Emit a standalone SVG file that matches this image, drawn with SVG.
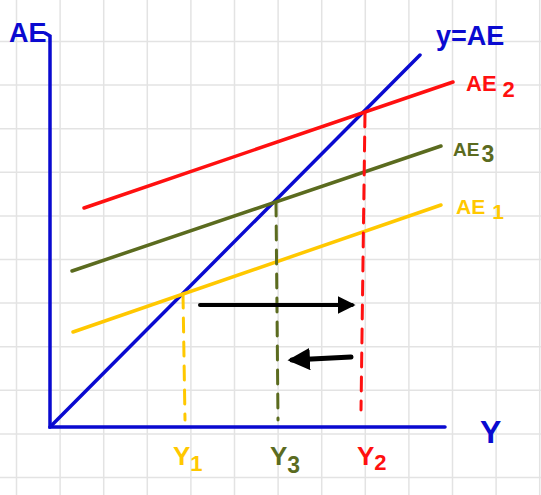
<svg xmlns="http://www.w3.org/2000/svg" width="541" height="495" viewBox="0 0 541 495">
<style>
.grid line{stroke:#e3e3e3;stroke-width:1.5}
.ln{fill:none;stroke-width:3.5;stroke-linecap:round}
.dash{fill:none;stroke-width:3;stroke-dasharray:14 10;stroke-linecap:round}
.t{font-family:"Liberation Sans",Arial,sans-serif;font-weight:bold}
.blue{stroke:#0a0ad0}.red{stroke:#ff1010}.olive{stroke:#5b6b1f}.yel{stroke:#ffc800}
</style>
<defs>
<marker id="ah" viewBox="0 0 10 10" refX="8" refY="5" markerWidth="4.5" markerHeight="4.5" orient="auto"><path d="M0,0 L10,5 L0,10 Z" fill="#000"/></marker>
</defs>
<rect width="541" height="495" fill="#fff"/>
<g class="grid">
<line x1="16.5" y1="0" x2="16.5" y2="495"/><line x1="60.1" y1="0" x2="60.1" y2="495"/><line x1="103.7" y1="0" x2="103.7" y2="495"/><line x1="147.3" y1="0" x2="147.3" y2="495"/><line x1="190.9" y1="0" x2="190.9" y2="495"/><line x1="234.5" y1="0" x2="234.5" y2="495"/><line x1="278.1" y1="0" x2="278.1" y2="495"/><line x1="321.7" y1="0" x2="321.7" y2="495"/><line x1="365.3" y1="0" x2="365.3" y2="495"/><line x1="408.9" y1="0" x2="408.9" y2="495"/><line x1="452.5" y1="0" x2="452.5" y2="495"/><line x1="496.1" y1="0" x2="496.1" y2="495"/><line x1="539.7" y1="0" x2="539.7" y2="495"/>
<line x1="0" y1="41.5" x2="541" y2="41.5"/><line x1="0" y1="85.1" x2="541" y2="85.1"/><line x1="0" y1="128.7" x2="541" y2="128.7"/><line x1="0" y1="172.3" x2="541" y2="172.3"/><line x1="0" y1="215.9" x2="541" y2="215.9"/><line x1="0" y1="259.5" x2="541" y2="259.5"/><line x1="0" y1="303.1" x2="541" y2="303.1"/><line x1="0" y1="346.7" x2="541" y2="346.7"/><line x1="0" y1="390.3" x2="541" y2="390.3"/><line x1="0" y1="433.9" x2="541" y2="433.9"/><line x1="0" y1="477.5" x2="541" y2="477.5"/>
</g>
<g id="axes">
<path class="ln blue" d="M45,33 L50,36 L50,427 L445,427"/>
<text class="t" x="9" y="42" font-size="27" fill="#0a0ad0">AE</text>
<text class="t" x="480" y="443" font-size="32" fill="#0a0ad0">Y</text>
</g>
<g id="line-45">
<line class="ln blue" x1="50" y1="427" x2="420" y2="55"/>
<text class="t" x="436" y="45" font-size="27" fill="#0a0ad0">y=AE</text>
</g>
<g id="ae2">
<line class="ln red" x1="84" y1="208" x2="453" y2="82"/>
<text class="t" x="466" y="91" font-size="22" fill="#ff1010">AE<tspan dx="6" dy="6">2</tspan></text>
</g>
<g id="ae3">
<line class="ln olive" x1="72" y1="271" x2="441" y2="146"/>
<text class="t" x="453" y="156" font-size="19" fill="#5b6b1f">AE<tspan dx="2" dy="6" font-size="23">3</tspan></text>
</g>
<g id="ae1">
<line class="ln yel" x1="73" y1="332" x2="441" y2="205"/>
<text class="t" x="456" y="214" font-size="21" fill="#ffc800">AE<tspan dx="7" dy="5">1</tspan></text>
</g>
<g id="connectors">
<line class="dash yel" x1="183" y1="294" x2="185" y2="420"/>
<line class="dash olive" x1="276" y1="202" x2="278" y2="420"/>
<line class="dash red" x1="365" y1="113" x2="361" y2="410"/>
<line x1="200" y1="305" x2="352" y2="305" stroke="#000" stroke-width="4" stroke-linecap="round" marker-end="url(#ah)"/>
<line x1="351" y1="357" x2="292" y2="360" stroke="#000" stroke-width="5" stroke-linecap="round" marker-end="url(#ah)"/>
</g>
<g id="y-labels">
<text class="t" x="173" y="465" font-size="26" fill="#ffc800">Y<tspan dy="6" font-size="22">1</tspan></text>
<text class="t" x="270" y="465" font-size="26" fill="#5b6b1f">Y<tspan dy="8" font-size="23">3</tspan></text>
<text class="t" x="357" y="465" font-size="26" fill="#ff1010">Y<tspan dy="5" font-size="22">2</tspan></text>
</g>
</svg>
